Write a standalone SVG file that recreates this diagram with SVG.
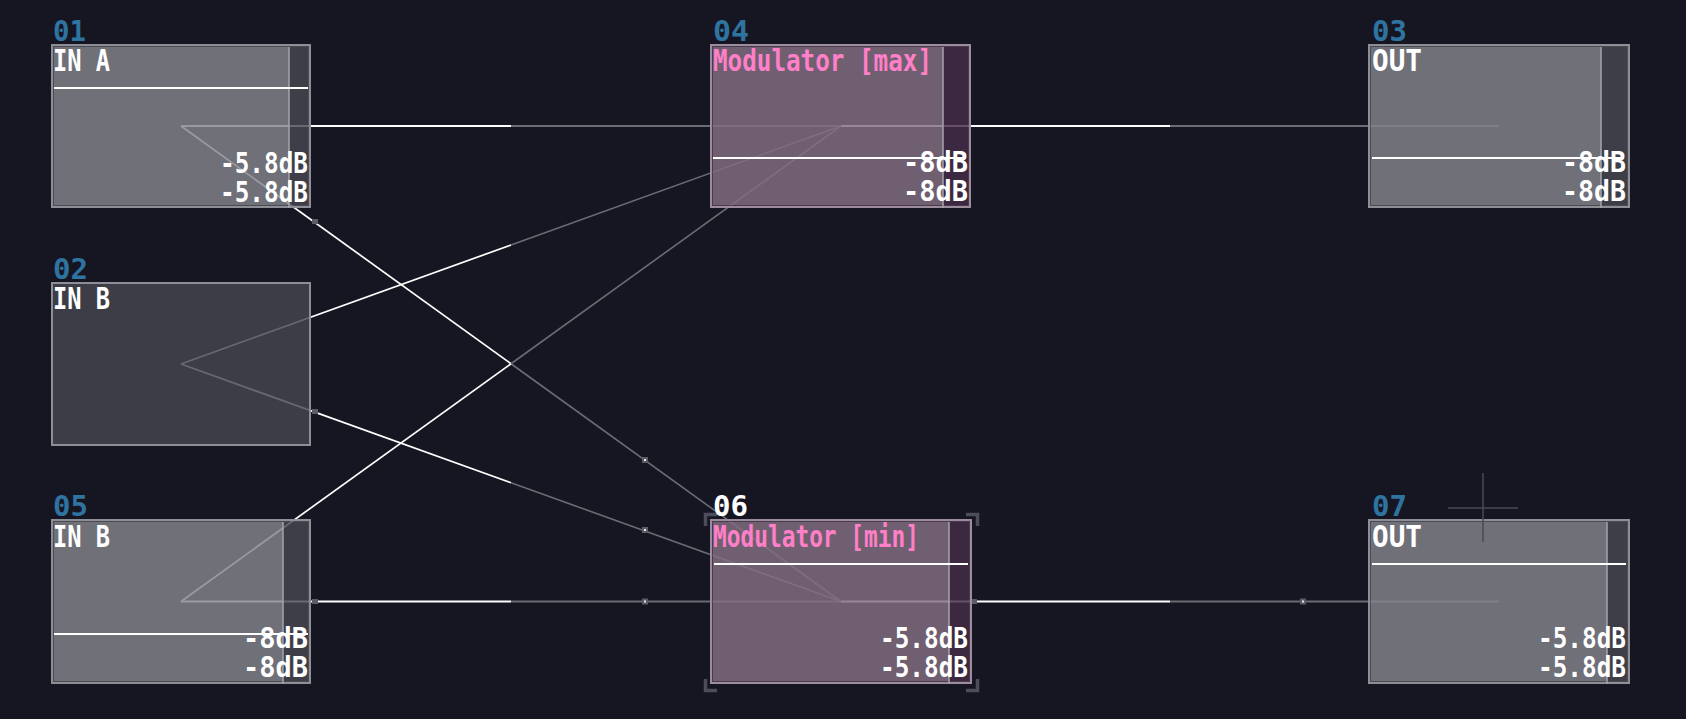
<svg xmlns="http://www.w3.org/2000/svg" width="1686" height="719" viewBox="0 0 1686 719">
<style>
.bg{fill:#161622}
.w{stroke:#ffffff;stroke-width:2;fill:none}
.g{stroke:#6b6b74;stroke-width:2;fill:none}
.wd{stroke:#ffffff;stroke-width:1.7;fill:none}
.gd{stroke:#6b6b74;stroke-width:1.6;fill:none}
.dot{fill:#5c5c66}
.dotc{fill:#e8e8ee}
.shell{opacity:0.82}
.ringG{fill:#575760}
.bodyG{fill:#84848d}
.stripG{fill:#474751}
.bodyD{fill:#464650}
.ringP{fill:#554257}
.bodyP{fill:#846f82}
.stripP{fill:#452c47}
.bordG{fill:none;stroke:#8e8e96;stroke-width:2}
.bordP{fill:none;stroke:#9c8c9e;stroke-width:2}
.meter{stroke:#a4a4ab;stroke-width:1.5}
.lvl{stroke:#ffffff;stroke-width:2}
.t{font-family:"DejaVu Sans Mono","Liberation Mono",monospace;font-size:30px;font-weight:bold;fill:#ffffff}
.pink{fill:#ff80c8}
.lab{font-family:"DejaVu Sans Mono","Liberation Mono",monospace;font-size:28px;font-weight:bold;fill:#2f73a0}
.sel{fill:#ffffff}
.db{font-family:"DejaVu Sans Mono","Liberation Mono",monospace;font-size:29px;font-weight:bold;fill:#ffffff;text-anchor:end}
.brk{fill:none;stroke:#4c4c5a;stroke-width:3.5}
.cross{stroke:#4a4a56;stroke-width:1.5}
</style>
<rect class="bg" x="0" y="0" width="1686" height="719"/>

<g id="connectors">
  <line class="w" x1="181" y1="126" x2="511" y2="126"/>
  <line class="g" x1="511" y1="126" x2="841" y2="126"/>
  <line class="w" x1="841" y1="126" x2="1170" y2="126"/>
  <line class="g" x1="1170" y1="126" x2="1499" y2="126"/>
  <line class="w" x1="181" y1="601.5" x2="511" y2="601.5"/>
  <line class="g" x1="511" y1="601.5" x2="841" y2="601.5"/>
  <line class="w" x1="841" y1="601.5" x2="1170" y2="601.5"/>
  <line class="g" x1="1170" y1="601.5" x2="1499" y2="601.5"/>
  <line class="wd" x1="181" y1="126" x2="511" y2="363.75"/>
  <line class="gd" x1="511" y1="363.75" x2="841" y2="601.5"/>
  <line class="wd" x1="181" y1="601.5" x2="511" y2="363.75"/>
  <line class="gd" x1="511" y1="363.75" x2="841" y2="126"/>
  <line class="wd" x1="181" y1="364" x2="511" y2="245"/>
  <line class="gd" x1="511" y1="245" x2="841" y2="126"/>
  <line class="wd" x1="181" y1="364" x2="511" y2="482.75"/>
  <line class="gd" x1="511" y1="482.75" x2="841" y2="601.5"/>
  <rect class="dot" x="642" y="457" width="6" height="6"/><rect class="dotc" x="644" y="459" width="2" height="2"/>
  <rect class="dot" x="642" y="527" width="6" height="6"/><rect class="dotc" x="644" y="529" width="2" height="2"/>
  <rect class="dot" x="642" y="598.5" width="6" height="6"/><rect class="dotc" x="644" y="600.5" width="2" height="2"/>
  <rect class="dot" x="1300" y="598.5" width="6" height="6"/><rect class="dotc" x="1302" y="600.5" width="2" height="2"/>
  <rect class="dot" x="312" y="219" width="6" height="5"/>
  <rect class="dot" x="312" y="409" width="6" height="5"/>
  <rect class="dot" x="312" y="599" width="6" height="5"/>
  <rect class="dot" x="972" y="599" width="5" height="5"/>
</g>

<g id="node01">
  <g class="shell">
    <rect class="ringG" x="51" y="44" width="260" height="164"/>
    <rect class="bodyG" x="54" y="47" width="254" height="158"/>
    <rect class="stripG" x="289" y="47" width="19" height="158"/>
  </g>
  <rect class="bordG" x="52" y="45" width="258" height="162"/>
  <line class="meter" x1="289" y1="47" x2="289" y2="208"/>
  <line class="lvl" x1="54" y1="88" x2="308" y2="88"/>
  <text class="lab" x="53" y="41" textLength="33" lengthAdjust="spacingAndGlyphs">01</text>
  <text class="t" x="53" y="71" textLength="57" lengthAdjust="spacingAndGlyphs">IN A</text>
  <text class="db" x="308" y="173" textLength="88" lengthAdjust="spacingAndGlyphs">-5.8dB</text>
  <text class="db" x="308" y="202" textLength="88" lengthAdjust="spacingAndGlyphs">-5.8dB</text>
</g>

<g id="node02">
  <g class="shell">
    <rect class="bodyD" x="51" y="282" width="260" height="164"/>
  </g>
  <rect class="bordG" x="52" y="283" width="258" height="162"/>
  <text class="lab" x="53" y="279" textLength="35" lengthAdjust="spacingAndGlyphs">02</text>
  <text class="t" x="53" y="309" textLength="57" lengthAdjust="spacingAndGlyphs">IN B</text>
</g>

<g id="node05">
  <g class="shell">
    <rect class="ringG" x="51" y="519" width="260" height="165"/>
    <rect class="bodyG" x="54" y="522" width="254" height="159"/>
    <rect class="stripG" x="283" y="522" width="25" height="159"/>
  </g>
  <rect class="bordG" x="52" y="520" width="258" height="163"/>
  <line class="meter" x1="283" y1="522" x2="283" y2="684"/>
  <line class="lvl" x1="54" y1="634" x2="308" y2="634"/>
  <text class="lab" x="53" y="516" textLength="35" lengthAdjust="spacingAndGlyphs">05</text>
  <text class="t" x="53" y="547" textLength="57" lengthAdjust="spacingAndGlyphs">IN B</text>
  <text class="db" x="308" y="648" textLength="65" lengthAdjust="spacingAndGlyphs">-8dB</text>
  <text class="db" x="308" y="677" textLength="65" lengthAdjust="spacingAndGlyphs">-8dB</text>
</g>

<g id="node04">
  <g class="shell">
    <rect class="ringP" x="710" y="44" width="261" height="164"/>
    <rect class="bodyP" x="713" y="47" width="255" height="158"/>
    <rect class="stripP" x="943" y="47" width="25" height="158"/>
  </g>
  <rect class="bordP" x="711" y="45" width="259" height="162"/>
  <line class="meter" x1="943" y1="47" x2="943" y2="208"/>
  <line class="lvl" x1="713" y1="158" x2="966" y2="158"/>
  <text class="lab" x="713" y="41" textLength="36" lengthAdjust="spacingAndGlyphs">04</text>
  <text class="t pink" x="713" y="71" textLength="219" lengthAdjust="spacingAndGlyphs">Modulator [max]</text>
  <text class="db" x="968" y="172" textLength="65" lengthAdjust="spacingAndGlyphs">-8dB</text>
  <text class="db" x="968" y="201" textLength="65" lengthAdjust="spacingAndGlyphs">-8dB</text>
</g>

<g id="node06">
  <path class="brk" d="M705.5 526 V514.5 H717 M966 514.5 H977.5 V526 M705.5 679 V690.5 H717 M966 690.5 H977.5 V679"/>
  <g class="shell">
    <rect class="ringP" x="710" y="519" width="262" height="165"/>
    <rect class="bodyP" x="713" y="522" width="256" height="159"/>
    <rect class="stripP" x="949" y="522" width="20" height="159"/>
  </g>
  <rect class="bordP" x="711" y="520" width="260" height="163"/>
  <line class="meter" x1="949" y1="522" x2="949" y2="684"/>
  <line class="lvl" x1="714" y1="564" x2="968" y2="564"/>
  <text class="lab sel" x="713" y="516" textLength="35" lengthAdjust="spacingAndGlyphs">06</text>
  <text class="t pink" x="713" y="547" textLength="206" lengthAdjust="spacingAndGlyphs">Modulator [min]</text>
  <text class="db" x="968" y="648" textLength="88" lengthAdjust="spacingAndGlyphs">-5.8dB</text>
  <text class="db" x="968" y="677" textLength="88" lengthAdjust="spacingAndGlyphs">-5.8dB</text>
</g>

<g id="node03">
  <g class="shell">
    <rect class="ringG" x="1368" y="44" width="262" height="164"/>
    <rect class="bodyG" x="1371" y="47" width="256" height="158"/>
    <rect class="stripG" x="1601" y="47" width="26" height="158"/>
  </g>
  <rect class="bordG" x="1369" y="45" width="260" height="162"/>
  <line class="meter" x1="1601" y1="47" x2="1601" y2="208"/>
  <line class="lvl" x1="1372" y1="158" x2="1624" y2="158"/>
  <text class="lab" x="1372" y="41" textLength="35" lengthAdjust="spacingAndGlyphs">03</text>
  <text class="t" x="1372" y="71" textLength="50" lengthAdjust="spacingAndGlyphs">OUT</text>
  <text class="db" x="1626" y="172" textLength="64" lengthAdjust="spacingAndGlyphs">-8dB</text>
  <text class="db" x="1626" y="201" textLength="64" lengthAdjust="spacingAndGlyphs">-8dB</text>
</g>

<g id="node07">
  <g class="shell">
    <rect class="ringG" x="1368" y="519" width="262" height="165"/>
    <rect class="bodyG" x="1371" y="522" width="256" height="159"/>
    <rect class="stripG" x="1607" y="522" width="20" height="159"/>
  </g>
  <rect class="bordG" x="1369" y="520" width="260" height="163"/>
  <line class="meter" x1="1607" y1="522" x2="1607" y2="684"/>
  <line class="lvl" x1="1372" y1="564" x2="1626" y2="564"/>
  <text class="lab" x="1372" y="516" textLength="35" lengthAdjust="spacingAndGlyphs">07</text>
  <text class="t" x="1372" y="547" textLength="50" lengthAdjust="spacingAndGlyphs">OUT</text>
  <text class="db" x="1626" y="648" textLength="88" lengthAdjust="spacingAndGlyphs">-5.8dB</text>
  <text class="db" x="1626" y="677" textLength="88" lengthAdjust="spacingAndGlyphs">-5.8dB</text>
</g>

<g id="cursor">
  <line class="cross" x1="1483" y1="473" x2="1483" y2="542"/>
  <line class="cross" x1="1448" y1="508" x2="1518" y2="508"/>
</g>
</svg>
